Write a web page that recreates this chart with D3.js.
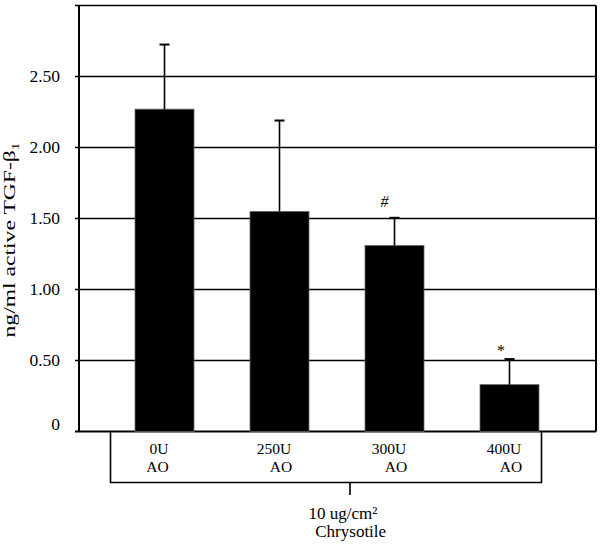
<!DOCTYPE html>
<html><head><meta charset="utf-8">
<script src="https://cdn.jsdelivr.net/npm/d3@7"></script>
<style>body{margin:0;background:#fff}svg{display:block}text{font-family:"Liberation Serif","Times New Roman",serif;fill:#000}</style>
</head><body>
<script>
const categories = ["0U", "250U", "300U", "400U"];
const subLabels = ["AO", "AO", "AO", "AO"];
const values = [2.27, 1.55, 1.31, 0.33];
const errors = [0.455, 0.64, 0.195, 0.18];
const marks = ["", "", "#", "*"];
const yTicks = [0, 0.5, 1.0, 1.5, 2.0, 2.5, 3.0];
const yTickLabels = ["0", "0.50", "1.00", "1.50", "2.00", "2.50", ""];
const groupLabel = ["10 ug/cm\u00B2", "Chrysotile"];

(function () {
const W = 600, H = 546;
const pL = 79, pR = 596, pT = 5.5, pB = 431.5;
const svg = d3.select("body").append("svg").attr("width", W).attr("height", H);

const y = d3.scaleLinear().domain([0, 3]).range([pB, pT]);
const x = d3.scaleBand().domain(categories).range([107, 567]).paddingInner(0.487).paddingOuter(0.2435);

// gridlines + ticks
svg.append("g").selectAll("line").data(yTicks).join("line")
  .attr("x1", 75).attr("x2", pR).attr("y1", d => y(d)).attr("y2", d => y(d))
  .attr("stroke", "#000").attr("stroke-width", d => d === 0 ? 2 : 1.5);
// left axis and right border
svg.append("line").attr("x1", pL).attr("x2", pL).attr("y1", pT).attr("y2", pB).attr("stroke", "#000").attr("stroke-width", 2);
svg.append("line").attr("x1", pR).attr("x2", pR).attr("y1", pT).attr("y2", pB).attr("stroke", "#000").attr("stroke-width", 2);

// tick labels
svg.append("g").selectAll("text").data(yTicks).join("text")
  .attr("x", 60).attr("y", d => y(d) + (d === 0 ? -1.5 : 5))
  .attr("text-anchor", "end").attr("font-size", 17.5)
  .text((d, i) => yTickLabels[i]);

// y label
const yl = svg.append("text")
  .attr("transform", "translate(15,240) rotate(-90)")
  .attr("text-anchor", "middle").attr("font-size", 17)
  .attr("textLength", 195).attr("lengthAdjust", "spacingAndGlyphs");
yl.append("tspan").text("ng/ml active TGF-\u03B2");
yl.append("tspan").attr("font-size", 11).attr("dy", 4).text("1");

// bars
const bw = x.bandwidth();
svg.append("g").selectAll("rect").data(categories).join("rect")
  .attr("x", d => x(d)).attr("width", bw)
  .attr("y", (d, i) => y(values[i])).attr("height", (d, i) => pB - y(values[i]))
  .attr("fill", "#000").attr("stroke", "#666").attr("stroke-width", 0.8);

// error bars
const eg = svg.append("g");
categories.forEach((c, i) => {
  const cx = x(c) + bw / 2;
  const ey = y(values[i] + errors[i]);
  eg.append("line").attr("x1", cx).attr("x2", cx).attr("y1", y(values[i])).attr("y2", ey).attr("stroke", "#000").attr("stroke-width", 1.6);
  eg.append("line").attr("x1", cx - 5).attr("x2", cx + 5).attr("y1", ey).attr("y2", ey).attr("stroke", "#000").attr("stroke-width", 2);
  if (marks[i]) {
    eg.append("text").attr("x", cx - (marks[i] === "#" ? 10 : 8.5))
      .attr("y", ey - (marks[i] === "#" ? 11 : 3))
      .attr("text-anchor", "middle").attr("font-size", 16).attr("font-style", marks[i] === "#" ? "italic" : "normal")
      .text(marks[i]);
  }
});

// category labels (two lines in one text)
const cl = svg.append("g").selectAll("text").data(categories).join("text")
  .attr("text-anchor", "middle").attr("font-size", 15.5);
cl.append("tspan").attr("x", d => x(d) + bw / 2 - 5.5).attr("y", 453.5).text(d => d);
cl.append("tspan").attr("x", (d, i) => x(d) + bw / 2 + (i === 0 ? -7 : 1.5)).attr("y", 471.5).text((d, i) => subLabels[i]);

// bracket
const bL = x(categories[0]) - 24.5, bR = x(categories[3]) + bw + 2.5, bY = 482.5, bC = 350;
svg.append("path").attr("d", `M${bL},${pB}V${bY}H${bR}V${pB}M${bC},${bY}V495`)
  .attr("fill", "none").attr("stroke", "#000").attr("stroke-width", 1.6);
const gl = svg.append("text").attr("text-anchor", "middle").attr("font-size", 17);
gl.append("tspan").attr("x", 343).attr("y", 519.3).text(groupLabel[0]);
gl.append("tspan").attr("x", 350.7).attr("y", 536.7).text(groupLabel[1]);
})();
</script>
</body></html>
